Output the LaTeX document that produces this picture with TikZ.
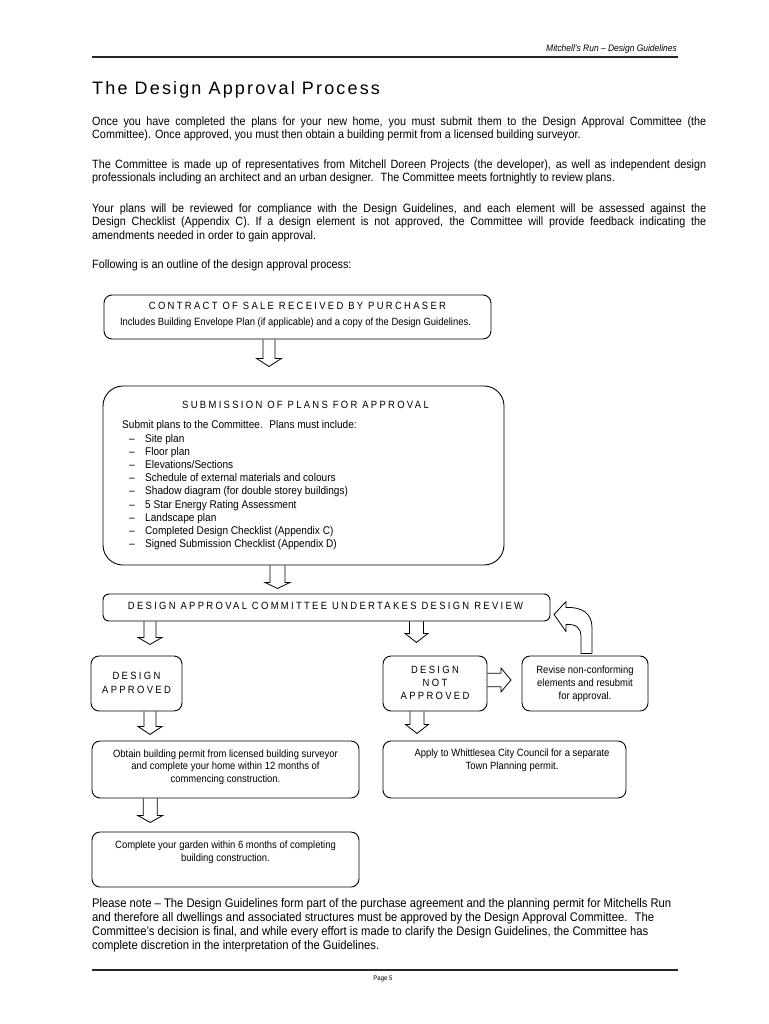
\documentclass[tikz,border=0pt]{standalone}
\usepackage{fontspec}
\setmainfont[FakeStretch=0.9]{Liberation Sans}
\newfontfamily\capsfont[FakeStretch=0.9,LetterSpace=22]{Liberation Sans}
\newfontfamily\titlefont[LetterSpace=12]{Liberation Sans}
\usetikzlibrary{calc}

\tikzset{
  box/.style={draw=black, line width=0.9pt, rounded corners=8pt, inner sep=0pt},
  blockarr/.style={draw=black, line width=0.8pt, line join=miter},
  txt/.style={inner sep=0pt, align=center, font=\fontsize{10.5}{13}\selectfont},
  capstxt/.style={inner sep=0pt, align=center, font=\capsfont\fontsize{10.5}{14}\selectfont},
  para/.style={inner sep=0pt, anchor=north west, text width=614pt, align=justify, font=\fontsize{12}{13.5}\selectfont},
  rulel/.style={line width=1.1pt, black!85},
}

% box by corners: name, x1, y1, x2, y2
\newcommand\mkbox[6][]{\node[box,#1,minimum width={#5-#3},minimum height={#6-#4}] (#2) at ({(#3+#5)/2},{(#4+#6)/2}) {};}
% hollow arrow down: anchor, x offset, length, shaft half width, head half width, head length
\newcommand\blockdown[6]{\draw[blockarr] ($(#1)+(#2,0)$) ++(-#4,0) -- ++(0,{#3-#6}) -- ++({#4-#5},0) -- ++(#5,#6) -- ++(#5,-#6) -- ++({#4-#5},0) -- ++(0,{-(#3-#6)});}
% hollow arrow right: anchor, y offset, length, shaft half, head half, head length
\newcommand\blockright[6]{\draw[blockarr] ($(#1)+(0,#2)$) ++(0,-#4) -- ++({#3-#6},0) -- ++(0,{#4-#5}) -- ++(#6,#5) -- ++(-#6,#5) -- ++(0,{#4-#5}) -- ++({-(#3-#6)},0);}

\begin{document}
\begin{tikzpicture}[x=1pt,y=-1pt]
\fill[white] (0,0) rectangle (768,1024);
\useasboundingbox (0,0) rectangle (768,1024);

% header
\node[anchor=base east, inner sep=0pt, font=\fontsize{9.4}{11}\selectfont\itshape] (hdr) at (677,52) {Mitchell's Run – Design Guidelines};
\draw[rulel] (92,57) -- (678,57);

% title
\node[anchor=base west, inner sep=0pt, font=\titlefont\fontsize{18}{20}\selectfont] (title) at (92,95) {The Design Approval Process};

% paragraphs
\node[para] (p1) at (92,115.55) {\strut Once you have completed the plans for your new home, you must submit them to the Design Approval Committee (the\linebreak Committee). Once approved, you must then obtain a building permit from a licensed building surveyor.};
\node[para] (p2) at (92,158.55) {\strut The Committee is made up of representatives from Mitchell Doreen Projects (the developer), as well as independent design\linebreak professionals including an architect and an urban designer.~ The Committee meets fortnightly to review plans.};
\node[para] (p3) at (92,202.55) {\strut Your plans will be reviewed for compliance with the Design Guidelines, and each element will be assessed against the\linebreak Design Checklist (Appendix C). If a design element is not approved, the Committee will provide feedback indicating the\linebreak amendments needed in order to gain approval.};
\node[para] (p4) at (92,258.55) {\strut Following is an outline of the design approval process:};

% contract box
\mkbox{contract}{104}{295}{491}{339}
\node[capstxt, anchor=base] (contractT) at ($(contract.north)+(0,14.8)$) {CONTRACT OF SALE RECEIVED BY PURCHASER};
\node[txt, anchor=base] (contractS) at ($(contract.north)+(-2,30.5)$) {Includes Building Envelope Plan (if applicable) and a copy of the Design Guidelines.};
\blockdown{contract.south}{-28.5}{27}{6}{12.5}{8}

% submission box
\mkbox[rounded corners=20pt]{submission}{103}{386}{504}{565}
\node[capstxt, anchor=base] (submissionT) at ($(submission.north)+(2,22.8)$) {SUBMISSION OF PLANS FOR APPROVAL};
\node[inner sep=0pt, anchor=north west, align=left, font=\fontsize{11.2}{13.2}\selectfont] (list) at (122,419.4) {\strut Submit plans to the Committee.~ Plans must include:\\
\hspace*{7pt}\makebox[16pt][l]{–}Site plan\\
\hspace*{7pt}\makebox[16pt][l]{–}Floor plan\\
\hspace*{7pt}\makebox[16pt][l]{–}Elevations/Sections\\
\hspace*{7pt}\makebox[16pt][l]{–}Schedule of external materials and colours\\
\hspace*{7pt}\makebox[16pt][l]{–}Shadow diagram (for double storey buildings)\\
\hspace*{7pt}\makebox[16pt][l]{–}5 Star Energy Rating Assessment\\
\hspace*{7pt}\makebox[16pt][l]{–}Landscape plan\\
\hspace*{7pt}\makebox[16pt][l]{–}Completed Design Checklist (Appendix C)\\
\hspace*{7pt}\makebox[16pt][l]{–}Signed Submission Checklist (Appendix D)};
\blockdown{submission.south}{-26}{23}{7.5}{12.5}{6}

% review bar
\mkbox[rounded corners=6pt]{bar}{103}{594}{550}{621}
\node[capstxt, anchor=base] (barT) at ($(bar.north)+(-1,16)$) {DESIGN APPROVAL COMMITTEE UNDERTAKES DESIGN REVIEW};
\blockdown{bar.south}{-176.5}{23}{6}{12}{7}
\blockdown{bar.south}{90}{21}{7}{11.5}{9}

% decision boxes
\mkbox{approved}{91}{656}{182}{711}
\node[capstxt] (approvedT) at ($(approved.north)+(0,27)$) {DESIGN\\APPROVED};
\mkbox{notapproved}{383}{656}{487}{711}
\node[capstxt, font=\capsfont\fontsize{10.5}{13.3}\selectfont] (notapprovedT) at ($(notapproved.north)+(0,27.3)$) {DESIGN\\NOT\\APPROVED};
\mkbox{revise}{522}{656}{648}{711}
\node[txt] (reviseT) at ($(revise.north)+(0,28)$) {Revise non-conforming\\elements and resubmit\\for approval.};
\blockright{notapproved.east}{-3.5}{23.5}{6.8}{12}{10}

% curved return arrow
\begin{scope}[shift={(revise.north)}]
\draw[blockarr, line join=round] (7,-2) -- (7,-28) .. controls (7,-42) and (-3,-49) .. (-19,-48)
  -- (-19,-54) -- (-31,-41) -- (-19,-24) -- (-19,-31)
  .. controls (-9,-32) and (-4,-27) .. (-4,-20) -- (-4,-2) -- cycle;
\end{scope}

\blockdown{approved.south}{13.5}{23}{6}{12}{8}
\blockdown{notapproved.south}{-18}{22}{7}{11.5}{9}

% lower boxes
\mkbox{obtain}{92}{741}{359}{798}
\node[txt, font=\fontsize{10.5}{12.75}\selectfont] (obtainT) at ($(obtain.north)+(0,26.5)$) {Obtain building permit from licensed building surveyor\\and complete your home within 12 months of\\commencing construction.};
\mkbox{apply}{383}{741}{626}{798}
\node[txt] (applyT) at ($(apply.north)+(7.5,19.5)$) {Apply to Whittlesea City Council for a separate\\Town Planning permit.};
\blockdown{obtain.south}{-75.3}{24}{7}{12.5}{7}
\mkbox{complete}{92}{832}{359}{887}
\node[txt] (completeT) at ($(complete.north)+(0,20.5)$) {Complete your garden within 6 months of completing\\building construction.};

% note
\node[inner sep=0pt, anchor=north west, align=left, font=\fontsize{12.5}{13.8}\selectfont] (note) at (92,897.8) {\strut Please note – The Design Guidelines form part of the purchase agreement and the planning permit for Mitchells Run\\
and therefore all dwellings and associated structures must be approved by the Design Approval Committee.~ The\\
Committee's decision is final, and while every effort is made to clarify the Design Guidelines, the Committee has\\
complete discretion in the interpretation of the Guidelines.};

% footer
\draw[rulel] (92,970) -- (678,970);
\node[anchor=base, inner sep=0pt, font=\fontsize{6.7}{8}\selectfont] (page) at (383,980) {Page 5};
\end{tikzpicture}
\end{document}
